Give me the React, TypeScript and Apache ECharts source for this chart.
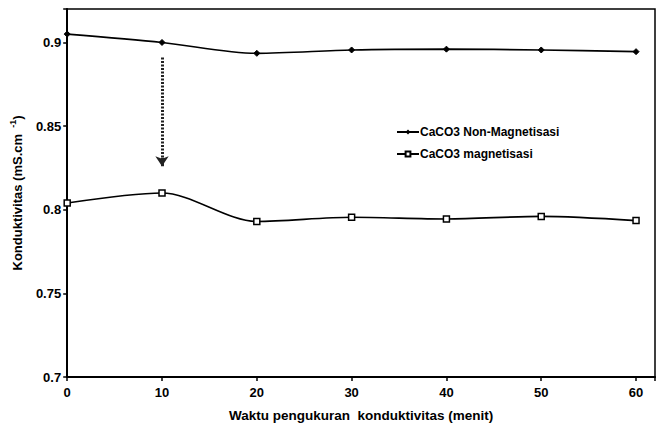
import React, { useEffect, useRef } from "react";
import * as echarts from "echarts";

const minutes = [0, 10, 20, 30, 40, 50, 60];
const nonMagnetisasi = [0.905, 0.9, 0.8935, 0.8955, 0.896, 0.8955, 0.8945];
const magnetisasi = [0.804, 0.81, 0.793, 0.7955, 0.7945, 0.796, 0.7935];
const yTicks = [0.7, 0.75, 0.8, 0.85, 0.9];
const xTicks = [0, 10, 20, 30, 40, 50, 60];
const arrowFrom = [10, 0.891];
const arrowHeadStart = [10, 0.831];
const arrowTo = [10, 0.826];

const FONT = "'Liberation Sans', Arial, sans-serif";

export default function App() {
  const ref = useRef<HTMLDivElement>(null);
  useEffect(() => {
    if (!ref.current) return;
    const chart = echarts.init(ref.current, undefined, { renderer: "svg" });
    chart.setOption({
      animation: false,
      backgroundColor: "#ffffff",
      grid: {
        left: 58,
        right: 1,
        top: 9,
        bottom: 51,
        show: true,
        borderColor: "#000",
        borderWidth: 1.5,
      },
      legend: {
        orient: "vertical",
        left: 391,
        top: 121,
        itemWidth: 22,
        itemHeight: 6,
        itemGap: 10,
        textStyle: {
          fontFamily: FONT,
          fontSize: 12,
          fontWeight: "bold",
          color: "#000",
          padding: [0, 0, 0, -4],
        },
        data: ["CaCO3 Non-Magnetisasi", "CaCO3 magnetisasi"],
      },
      xAxis: {
        type: "value",
        min: 0,
        max: 62,
        interval: 10,
        name: "Waktu pengukuran  konduktivitas (menit)",
        nameLocation: "middle",
        nameGap: 31,
        nameTextStyle: { fontFamily: FONT, fontSize: 13.5, fontWeight: "bold", color: "#000" },
        axisLine: { lineStyle: { color: "#000", width: 2 } },
        axisTick: { show: true, length: 4, lineStyle: { color: "#000", width: 1.5 } },
        axisLabel: {
          fontFamily: FONT,
          fontSize: 13,
          fontWeight: "bold",
          color: "#000",
          margin: 9,
          formatter: (v: number) => (xTicks.includes(v) ? String(v) : ""),
        },
        splitLine: { show: false },
      },
      yAxis: {
        type: "value",
        min: 0.7,
        max: 0.92,
        interval: 0.05,
        name: "{a|Konduktivitas (mS.cm }{b| -1}{a|)}",
        nameLocation: "middle",
        nameGap: 40,
        nameRotate: 90,
        nameTextStyle: {
          fontFamily: FONT,
          fontSize: 13,
          fontWeight: "bold",
          color: "#000",
          rich: {
            a: { fontFamily: FONT, fontSize: 13, fontWeight: "bold", color: "#000", lineHeight: 16, verticalAlign: "bottom" },
            b: { fontFamily: FONT, fontSize: 9, fontWeight: "bold", color: "#000", lineHeight: 16, verticalAlign: "top", padding: [0, 0, 8, 0] },
          },
        },
        axisLine: { show: true, lineStyle: { color: "#000", width: 2 } },
        axisTick: { show: true, length: 4, lineStyle: { color: "#000", width: 1.5 } },
        axisLabel: {
          fontFamily: FONT,
          fontSize: 13,
          fontWeight: "bold",
          color: "#000",
          margin: 6,
          formatter: (v: number) => {
            const t = yTicks.find((y) => Math.abs(y - v) < 1e-6);
            return t === undefined ? "" : String(t);
          },
        },
        splitLine: { show: false },
      },
      series: [
        {
          name: "CaCO3 Non-Magnetisasi",
          type: "line",
          smooth: 0.3,
          data: minutes.map((m, i) => [m, nonMagnetisasi[i]]),
          symbol: "diamond",
          symbolSize: 6,
          lineStyle: { color: "#000", width: 1.6 },
          itemStyle: { color: "#000", borderColor: "#000" },
          markLine: {
            silent: true,
            symbol: ["none", "none"],
            symbolSize: 10,
            label: { show: false },
            lineStyle: { color: "#222", type: [2, 1.5], width: 3 },
            itemStyle: { color: "#222" },
            data: [
              [{ coord: arrowFrom }, { coord: arrowHeadStart }],
              [
                { coord: arrowHeadStart, symbol: "none", lineStyle: { type: "solid", width: 3, color: "#222" } },
                { coord: arrowTo, symbol: "arrow", symbolSize: 10 },
              ],
            ],
          },
        },
        {
          name: "CaCO3 magnetisasi",
          type: "line",
          smooth: 0.3,
          data: minutes.map((m, i) => [m, magnetisasi[i]]),
          symbol: "rect",
          symbolSize: 6,
          lineStyle: { color: "#000", width: 1.6 },
          itemStyle: { color: "#fff", borderColor: "#000", borderWidth: 1.5 },
        },
      ],
    });
    return () => chart.dispose();
  }, []);
  return <div ref={ref} style={{ width: 658, height: 428, position: "absolute", left: 0, top: 0 }} />;
}
